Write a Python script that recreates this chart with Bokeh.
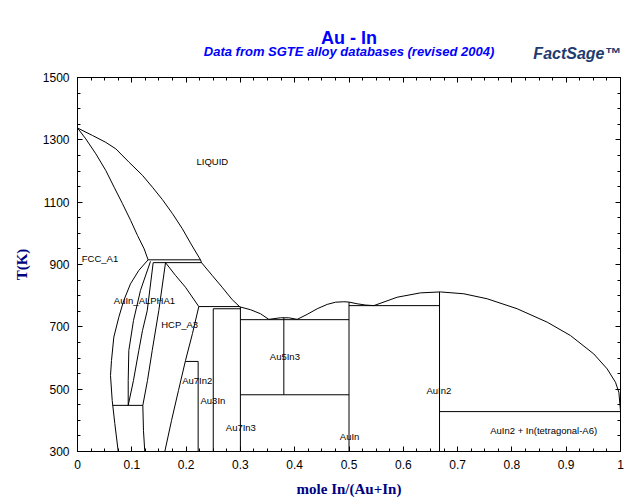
from bokeh.plotting import figure
from bokeh.models import LinearAxis, FixedTicker, Range1d, ColumnDataSource, Title
from bokeh.core.properties import value
from bokeh.embed import file_html
from bokeh.resources import INLINE

# ---------------- data (mole fraction In, T in K) ----------------
liquidus_x = [0.0, 0.0276, 0.052, 0.0706, 0.095, 0.1197, 0.138, 0.1565, 0.175, 0.193, 0.209,
              0.2265, 0.2284, 0.248, 0.2664, 0.285, 0.299, 0.3186, 0.337, 0.3524, 0.3738,
              0.389, 0.4046, 0.423, 0.4414, 0.4599, 0.4751, 0.4905, 0.4996, 0.515, 0.53, 0.5457,
              0.5887, 0.6317, 0.6685, 0.7115, 0.7545, 0.8097, 0.865, 0.9079, 0.9508, 0.9755,
              0.9908, 0.997, 1.0]
liquidus_T = [1338, 1314, 1292, 1271, 1228, 1186, 1148, 1108, 1063, 1015, 966,
              915, 906, 865, 827, 787, 764, 755, 742, 724, 729,
              729, 724, 740, 758, 772, 779, 780.5, 779.5, 774, 770, 768,
              795, 809, 812, 806, 790, 758, 715, 672, 613, 565,
              522, 490, 430]

solidus_x = [0.0, 0.0153, 0.0338, 0.052, 0.0675, 0.0829, 0.098, 0.1105, 0.1228, 0.130]
solidus_T = [1338, 1303, 1255, 1202, 1148, 1095, 1041, 993, 950, 915]

alpha1_left_x = [0.130, 0.1129, 0.0976, 0.0853, 0.0761, 0.0669, 0.0626, 0.0608, 0.0639, 0.0687, 0.0750]
alpha1_left_T = [915, 881, 838, 785, 731, 667, 592, 544, 464, 390, 300]

alpha1_b_x = [0.1344, 0.1160, 0.1031, 0.0945, 0.0934, 0.0934]
alpha1_b_T = [910, 817, 720, 624, 528, 448]

alpha1_c_x = [0.1394, 0.1284, 0.1197, 0.1129, 0.1031, 0.0934]
alpha1_c_T = [906, 752, 688, 624, 528, 448]

hcp_left_x = [0.1621, 0.1497, 0.1376, 0.1289, 0.1203, 0.1215, 0.1239]
hcp_left_T = [906, 752, 624, 528, 448, 367, 300]

hcp_top_x = [0.1621, 0.1805, 0.1989, 0.2234]
hcp_top_T = [906, 865, 827, 765]

hcp_right_x = [0.2234, 0.2118, 0.1989, 0.1860, 0.1731, 0.1608]
hcp_right_T = [765, 679, 592, 496, 399, 300]

# invariant (horizontal) lines: x0, x1, T
invariant_x0 = [0.130, 0.1394, 0.0649, 0.2234, 0.1985, 0.25, 0.30, 0.30, 0.50, 0.6667]
invariant_x1 = [0.2265, 0.2284, 0.1203, 0.299, 0.2222, 0.30, 0.50, 0.50, 0.6667, 1.0]
invariant_T = [915, 906, 448, 765, 589, 758, 723, 482, 768, 428]

# compound (vertical) lines: x, T_top, T_bottom
compound_x = [0.2222, 0.25, 0.30, 0.38, 0.50, 0.6667]
compound_Ttop = [589, 758, 764, 729, 779.5, 812]
compound_Tbot = [300, 300, 300, 482, 300, 300]

phase_names = ["LIQUID", "FCC_A1", "AuIn_ALPHA1", "HCP_A3", "Au7In2", "Au3In", "Au7In3",
               "Au5In3", "AuIn", "AuIn2", "AuIn2 + In(tetragonal-A6)"]
phase_x = [0.2192, 0.0079, 0.0669, 0.1541, 0.1928, 0.2265, 0.2731, 0.3542, 0.4831, 0.6427, 0.7600]
phase_T = [1229, 920, 783, 707, 528, 463, 376, 605, 349, 497, 366]

xticks = [0, 0.1, 0.2, 0.3, 0.4, 0.5, 0.6, 0.7, 0.8, 0.9, 1]
xtick_labels = ["0", "0.1", "0.2", "0.3", "0.4", "0.5", "0.6", "0.7", "0.8", "0.9", "1"]
xminor = [i * 0.025 for i in range(41)]
yticks = [300, 500, 700, 900, 1100, 1300, 1500]
yminor = list(range(300, 1501, 50))

title_text = "Au - In"
subtitle_text = "Data from SGTE alloy databases (revised 2004)"
logo_text = "FactSage\u2122"
x_title = "mole In/(Au+In)"
y_title = "T(K)"

# ---------------- figure ----------------
W, H = 632, 502
p = figure(width=W, height=H, output_backend="svg", toolbar_location=None,
           x_range=Range1d(0, 1), y_range=Range1d(300, 1500),
           min_border_left=77, min_border_right=12, min_border_top=77, min_border_bottom=51)
p.grid.visible = False
p.outline_line_color = "black"
p.background_fill_color = "white"
p.border_fill_color = "white"

xt = FixedTicker(ticks=xticks, minor_ticks=xminor)
yt = FixedTicker(ticks=yticks, minor_ticks=yminor)

def style(ax, standoff):
    ax.major_tick_in = 5
    ax.major_tick_out = 0
    ax.minor_tick_in = 3
    ax.minor_tick_out = 0
    ax.axis_line_color = "black"
    ax.major_tick_line_color = "black"
    ax.minor_tick_line_color = "black"
    ax.major_label_text_font = "Liberation Sans"
    ax.major_label_text_font_size = "12px"
    ax.major_label_text_color = "black"
    ax.major_label_standoff = standoff
    ax.axis_label_text_font = "Liberation Serif"
    ax.axis_label_text_font_size = "15px"
    ax.axis_label_text_font_style = "bold"
    ax.axis_label_text_color = "#000080"

xa = p.xaxis[0]
xa.ticker = xt
xa.major_label_overrides = dict(zip(xticks, xtick_labels))
style(xa, 8)
xa.axis_label = x_title
xa.axis_label_standoff = 9
ya = p.yaxis[0]
ya.ticker = yt
style(ya, 8)
ya.axis_label = y_title
ya.axis_label_standoff = 10

# mirror axes (ticks only, no labels)
top = LinearAxis(ticker=xt)
style(top, 0)
top.major_label_overrides = {t: "" for t in xticks}
top.major_label_text_font_size = "1px"
p.add_layout(top, "above")
right = LinearAxis(ticker=yt)
style(right, 0)
right.major_label_overrides = {t: "" for t in yticks}
right.major_label_text_font_size = "1px"
p.add_layout(right, "right")

# titles stacked above (first added = nearest the frame)
p.add_layout(Title(text=subtitle_text, align="center", offset=1, standoff=38,
                   text_font="Liberation Sans", text_font_size="13px",
                   text_font_style="bold italic", text_color="#0000FF"), "above")
p.add_layout(Title(text=title_text, align="center", offset=3, standoff=-50,
                   text_font="Liberation Sans", text_font_size="18px",
                   text_font_style="bold", text_color="#0000FF"), "above")
p.add_layout(Title(text=logo_text, align="right", offset=0, standoff=-79,
                   text_font="Liberation Sans", text_font_size="16px",
                   text_font_style="bold italic", text_color="#1E3C6E"), "above")

lc = "black"
lw = 1
p.line(liquidus_x, liquidus_T, line_color=lc, line_width=lw)
p.line(solidus_x, solidus_T, line_color=lc, line_width=lw)
p.line(alpha1_left_x, alpha1_left_T, line_color=lc, line_width=lw)
p.line(alpha1_b_x, alpha1_b_T, line_color=lc, line_width=lw)
p.line(alpha1_c_x, alpha1_c_T, line_color=lc, line_width=lw)
p.line(hcp_left_x, hcp_left_T, line_color=lc, line_width=lw)
p.line(hcp_top_x, hcp_top_T, line_color=lc, line_width=lw)
p.line(hcp_right_x, hcp_right_T, line_color=lc, line_width=lw)
p.segment(x0=invariant_x0, y0=invariant_T, x1=invariant_x1, y1=invariant_T,
          line_color=lc, line_width=lw)
p.segment(x0=compound_x, y0=compound_Ttop, x1=compound_x, y1=compound_Tbot,
          line_color=lc, line_width=lw)

src = ColumnDataSource(dict(x=phase_x, y=phase_T, t=phase_names))
p.text(x="x", y="y", text="t", source=src, text_font=value("Liberation Sans"),
       text_font_size=value("9.5px"), text_baseline="middle", text_align="left",
       text_color="black")

open("out.html", "w").write(file_html(p, INLINE))
